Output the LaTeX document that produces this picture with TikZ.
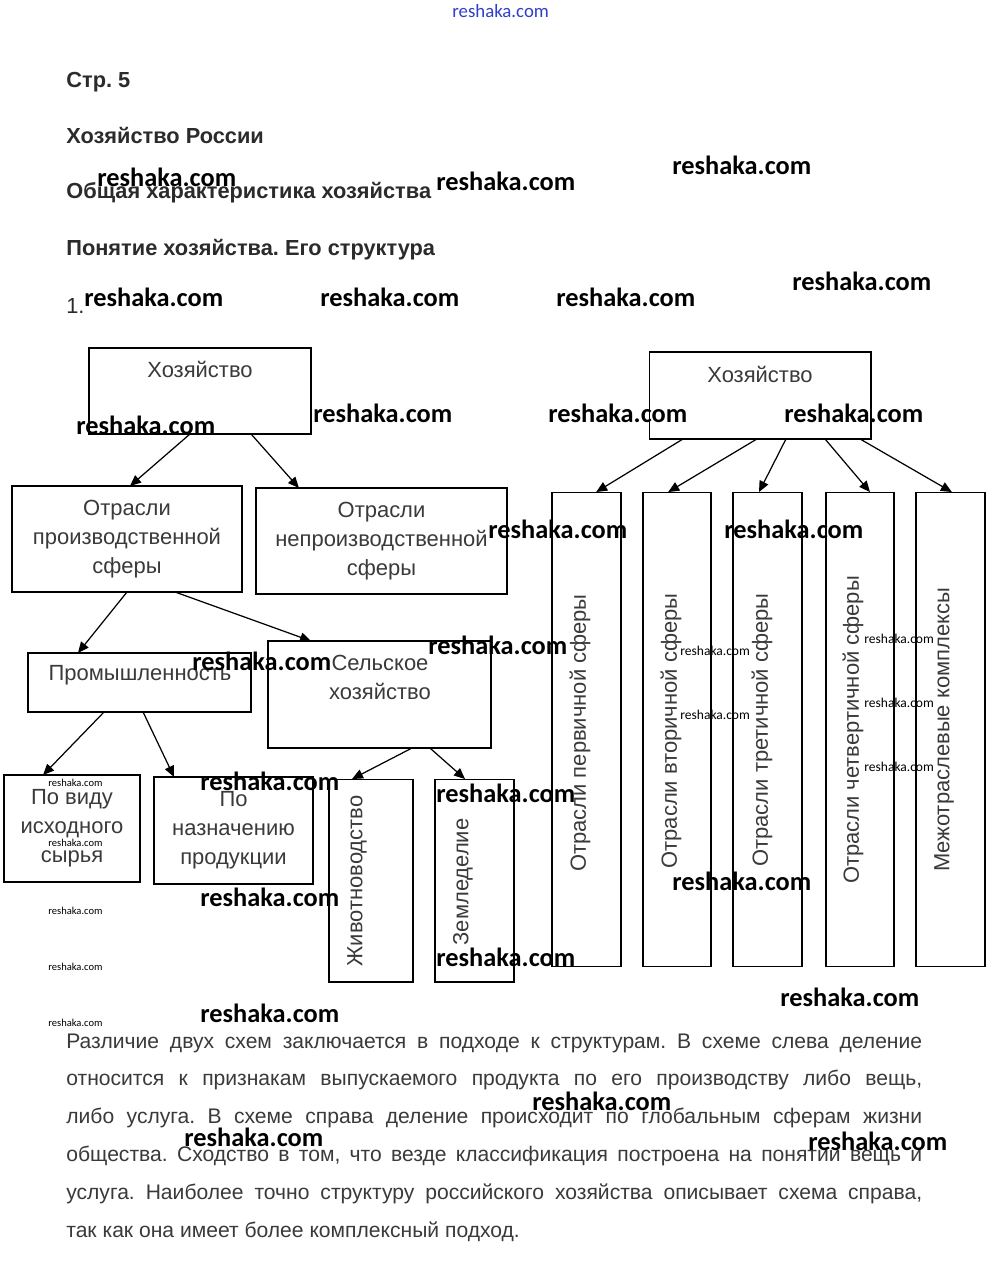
\documentclass[tikz,border=0pt]{standalone}
\usepackage{fontspec}
\setmainfont{Liberation Sans}
\newfontfamily\wmfont{Carlito}
\usetikzlibrary{arrows.meta,calc}
\frenchspacing
\definecolor{SchInk}{HTML}{2B2B2B}
\definecolor{SchText}{HTML}{3A3A3A}
\definecolor{SchBlue}{HTML}{2F3FC8}
\tikzset{
  box/.style={draw=black,line width=0.6pt,inner sep=0pt,outer sep=0pt,
              text=SchText,font=\fontsize{12.5}{16.5}\selectfont,align=center},
  boxtext/.style={text=SchText,font=\fontsize{12.5}{16.5}\selectfont,align=center,inner sep=0pt},
  vtext/.style={boxtext,rotate=90},
  arr/.style={-{Triangle[length=2.2mm,width=1.9mm]},line width=0.7pt},
  head/.style={anchor=base west,inner sep=0pt,text=SchInk,
               font=\fontsize{12.4}{14}\selectfont\bfseries},
  para/.style={anchor=base west,inner sep=0pt,text width=17.12cm,align=justify,
               text=SchText,font=\fontsize{12}{21.6}\selectfont},
  wm/.style={anchor=west,inner sep=0pt,text=black,
             font=\wmfont\bfseries\fontsize{15}{18}\selectfont},
  wmsmall/.style={anchor=west,inner sep=0pt,text=black,font=\wmfont\fontsize{6}{7}\selectfont},
  wmmid/.style={wmsmall,font=\wmfont\fontsize{7.7}{9}\selectfont},
  wmtop/.style={anchor=west,inner sep=0pt,text=SchBlue,font=\wmfont\fontsize{10.7}{12}\selectfont},
}

\begin{document}
\begin{tikzpicture}[x=0.02cm,y=-0.02cm]
  \path[use as bounding box,fill=white] (0,0) rectangle (999,1262);

  % page headings
  \node[head] (page) at (66,87) {Стр. 5};
  \node[head] (chap) at (66,143) {Хозяйство России};
  \node[head] (sect) at (66,198) {Общая характеристика хозяйства};
  \node[head] (topic) at (66,255) {Понятие хозяйства. Его структура};
  \node[head,font=\fontsize{12.4}{14}\selectfont] (num) at (66,313) {1.};

  % left scheme
  \node[box,minimum width=4.44cm,minimum height=1.72cm] (hozL) at (200,391) {};
  \node[boxtext] (hozLt) at (200,369) {Хозяйство};
  \node[box,minimum width=4.6cm,minimum height=2.12cm] (prod) at (127,539)
    {Отрасли\\производственной\\сферы};
  \node[box,minimum width=5.02cm,minimum height=2.12cm] (nepr) at (381.5,541)
    {Отрасли\\непроизводственной\\сферы};
  \node[box,minimum width=4.46cm,minimum height=1.18cm] (prom) at (139.5,682.5) {};
  \node[boxtext] (promt) at (140,675) {Промышленность};
  \node[box,minimum width=4.46cm,minimum height=2.14cm] (selsk) at (379.5,694.5) {};
  \node[boxtext] (selskt) at (380,677) {Сельское\\хозяйство};
  \node[box,minimum width=2.72cm,minimum height=2.14cm] (vidu) at (72,828.5)
    {По виду\\исходного\\сырья};
  \node[box,minimum width=3.18cm,minimum height=2.14cm] (nazn) at (233.5,830.5)
    {По\\назначению\\продукции};
  \node[box,minimum width=1.68cm,minimum height=4.06cm] (zhiv) at (371,880.5) {};
  \node[vtext] (zhivt) at (357,881) {Животноводство};
  \node[box,minimum width=1.58cm,minimum height=4.06cm] (zeml) at (474.5,880.5) {};
  \node[vtext] (zemlt) at (463,882) {Земледелие};

  \draw[arr] ($(hozL.south west)!.455!(hozL.south east)$) -- ($(prod.north west)!.513!(prod.north east)$);
  \draw[arr] ($(hozL.south west)!.73!(hozL.south east)$) -- ($(nepr.north west)!.171!(nepr.north east)$);
  \draw[arr] ($(prod.south west)!.5!(prod.south east)$) -- ($(prom.north west)!.224!(prom.north east)$);
  \draw[arr] ($(prod.south west)!.709!(prod.south east)$) -- ($(selsk.north west)!.193!(selsk.north east)$);
  \draw[arr] ($(prom.south west)!.341!(prom.south east)$) -- ($(vidu.north west)!.287!(vidu.north east)$);
  \draw[arr] ($(prom.south west)!.516!(prom.south east)$) -- ($(nazn.north west)!.126!(nazn.north east)$);
  \draw[arr] ($(selsk.south west)!.646!(selsk.south east)$) -- ($(zhiv.north west)!.274!(zhiv.north east)$);
  \draw[arr] ($(selsk.south west)!.726!(selsk.south east)$) -- ($(zeml.north west)!.38!(zeml.north east)$);

  % right scheme
  \node[box,minimum width=4.44cm,minimum height=1.74cm] (hozR) at (760,395.5) {};
  \node[boxtext] (hozRt) at (760,374) {Хозяйство};
  \node[box,minimum width=1.38cm,minimum height=9.5cm] (first) at (586.5,729.5) {};
  \node[vtext] (firstt) at (580,733) {Отрасли первичной сферы};
  \node[box,minimum width=1.36cm,minimum height=9.5cm] (second) at (677,729.5) {};
  \node[vtext] (secondt) at (671,731) {Отрасли вторичной сферы};
  \node[box,minimum width=1.38cm,minimum height=9.5cm] (third) at (767.5,729.5) {};
  \node[vtext] (thirdt) at (762,730) {Отрасли третичной сферы};
  \node[box,minimum width=1.36cm,minimum height=9.5cm] (fourth) at (860,729.5) {};
  \node[vtext] (fourtht) at (853,730) {Отрасли четвертичной сферы};
  \node[box,minimum width=1.38cm,minimum height=9.5cm] (inter) at (950.5,729.5) {};
  \node[vtext] (intert) at (944,730) {Межотраслевые комплексы};

  \draw[arr] ($(hozR.south west)!.153!(hozR.south east)$) -- ($(first.north west)!.64!(first.north east)$);
  \draw[arr] ($(hozR.south west)!.486!(hozR.south east)$) -- ($(second.north west)!.37!(second.north east)$);
  \draw[arr] ($(hozR.south west)!.617!(hozR.south east)$) -- ($(third.north west)!.377!(third.north east)$);
  \draw[arr] ($(hozR.south west)!.793!(hozR.south east)$) -- ($(fourth.north west)!.647!(fourth.north east)$);
  \draw[arr] ($(hozR.south west)!.951!(hozR.south east)$) -- ($(inter.north west)!.52!(inter.north east)$);

  % answer text
  \node[para] (answer) at (66,1048)
    {Различие двух схем заключается в подходе к структурам. В схеме слева деление\linebreak
     относится к признакам выпускаемого продукта по его производству либо вещь,\linebreak
     либо услуга. В схеме справа деление происходит по глобальным сферам жизни\linebreak
     общества. Сходство в том, что везде классификация построена на понятии вещь и\linebreak
     услуга. Наиболее точно структуру российского хозяйства описывает схема справа,\linebreak
     так как она имеет более комплексный подход.};

  % watermarks
  \node[wmtop] (wm0) at (452,11) {reshaka.com};
  \node[wm] (wm1) at (97,177) {reshaka.com};
  \node[wm] (wm2) at (436,181) {reshaka.com};
  \node[wm] (wm3) at (672,165) {reshaka.com};
  \node[wm] (wm4) at (84,297) {reshaka.com};
  \node[wm] (wm5) at (320,297) {reshaka.com};
  \node[wm] (wm6) at (556,297) {reshaka.com};
  \node[wm] (wm7) at (792,281) {reshaka.com};
  \node[wm] (wm8) at (313,413) {reshaka.com};
  \node[wm] (wm9) at (76,425) {reshaka.com};
  \node[wm] (wm10) at (548,413) {reshaka.com};
  \node[wm] (wm11) at (784,413) {reshaka.com};
  \node[wm] (wm12) at (488,529) {reshaka.com};
  \node[wm] (wm13) at (724,529) {reshaka.com};
  \node[wm] (wm14) at (428,645) {reshaka.com};
  \node[wm] (wm15) at (192,661) {reshaka.com};
  \node[wm] (wm16) at (200,781) {reshaka.com};
  \node[wm] (wm17) at (436,793) {reshaka.com};
  \node[wm] (wm18) at (672,881) {reshaka.com};
  \node[wm] (wm19) at (200,897) {reshaka.com};
  \node[wm] (wm20) at (436,957) {reshaka.com};
  \node[wm] (wm21) at (780,997) {reshaka.com};
  \node[wm] (wm22) at (200,1013) {reshaka.com};
  \node[wm] (wm23) at (532,1101) {reshaka.com};
  \node[wm] (wm24) at (184,1137) {reshaka.com};
  \node[wm] (wm25) at (808,1141) {reshaka.com};
  \node[wmsmall] (ws1) at (48,783) {reshaka.com};
  \node[wmsmall] (ws2) at (48,843) {reshaka.com};
  \node[wmsmall] (ws3) at (48,911) {reshaka.com};
  \node[wmsmall] (ws4) at (48,967) {reshaka.com};
  \node[wmsmall] (ws5) at (48,1023) {reshaka.com};
  \node[wmmid] (ws6) at (680,651) {reshaka.com};
  \node[wmmid] (ws7) at (680,715) {reshaka.com};
  \node[wmmid] (ws8) at (864,639) {reshaka.com};
  \node[wmmid] (ws9) at (864,703) {reshaka.com};
  \node[wmmid] (ws10) at (864,767) {reshaka.com};
\end{tikzpicture}
\end{document}
